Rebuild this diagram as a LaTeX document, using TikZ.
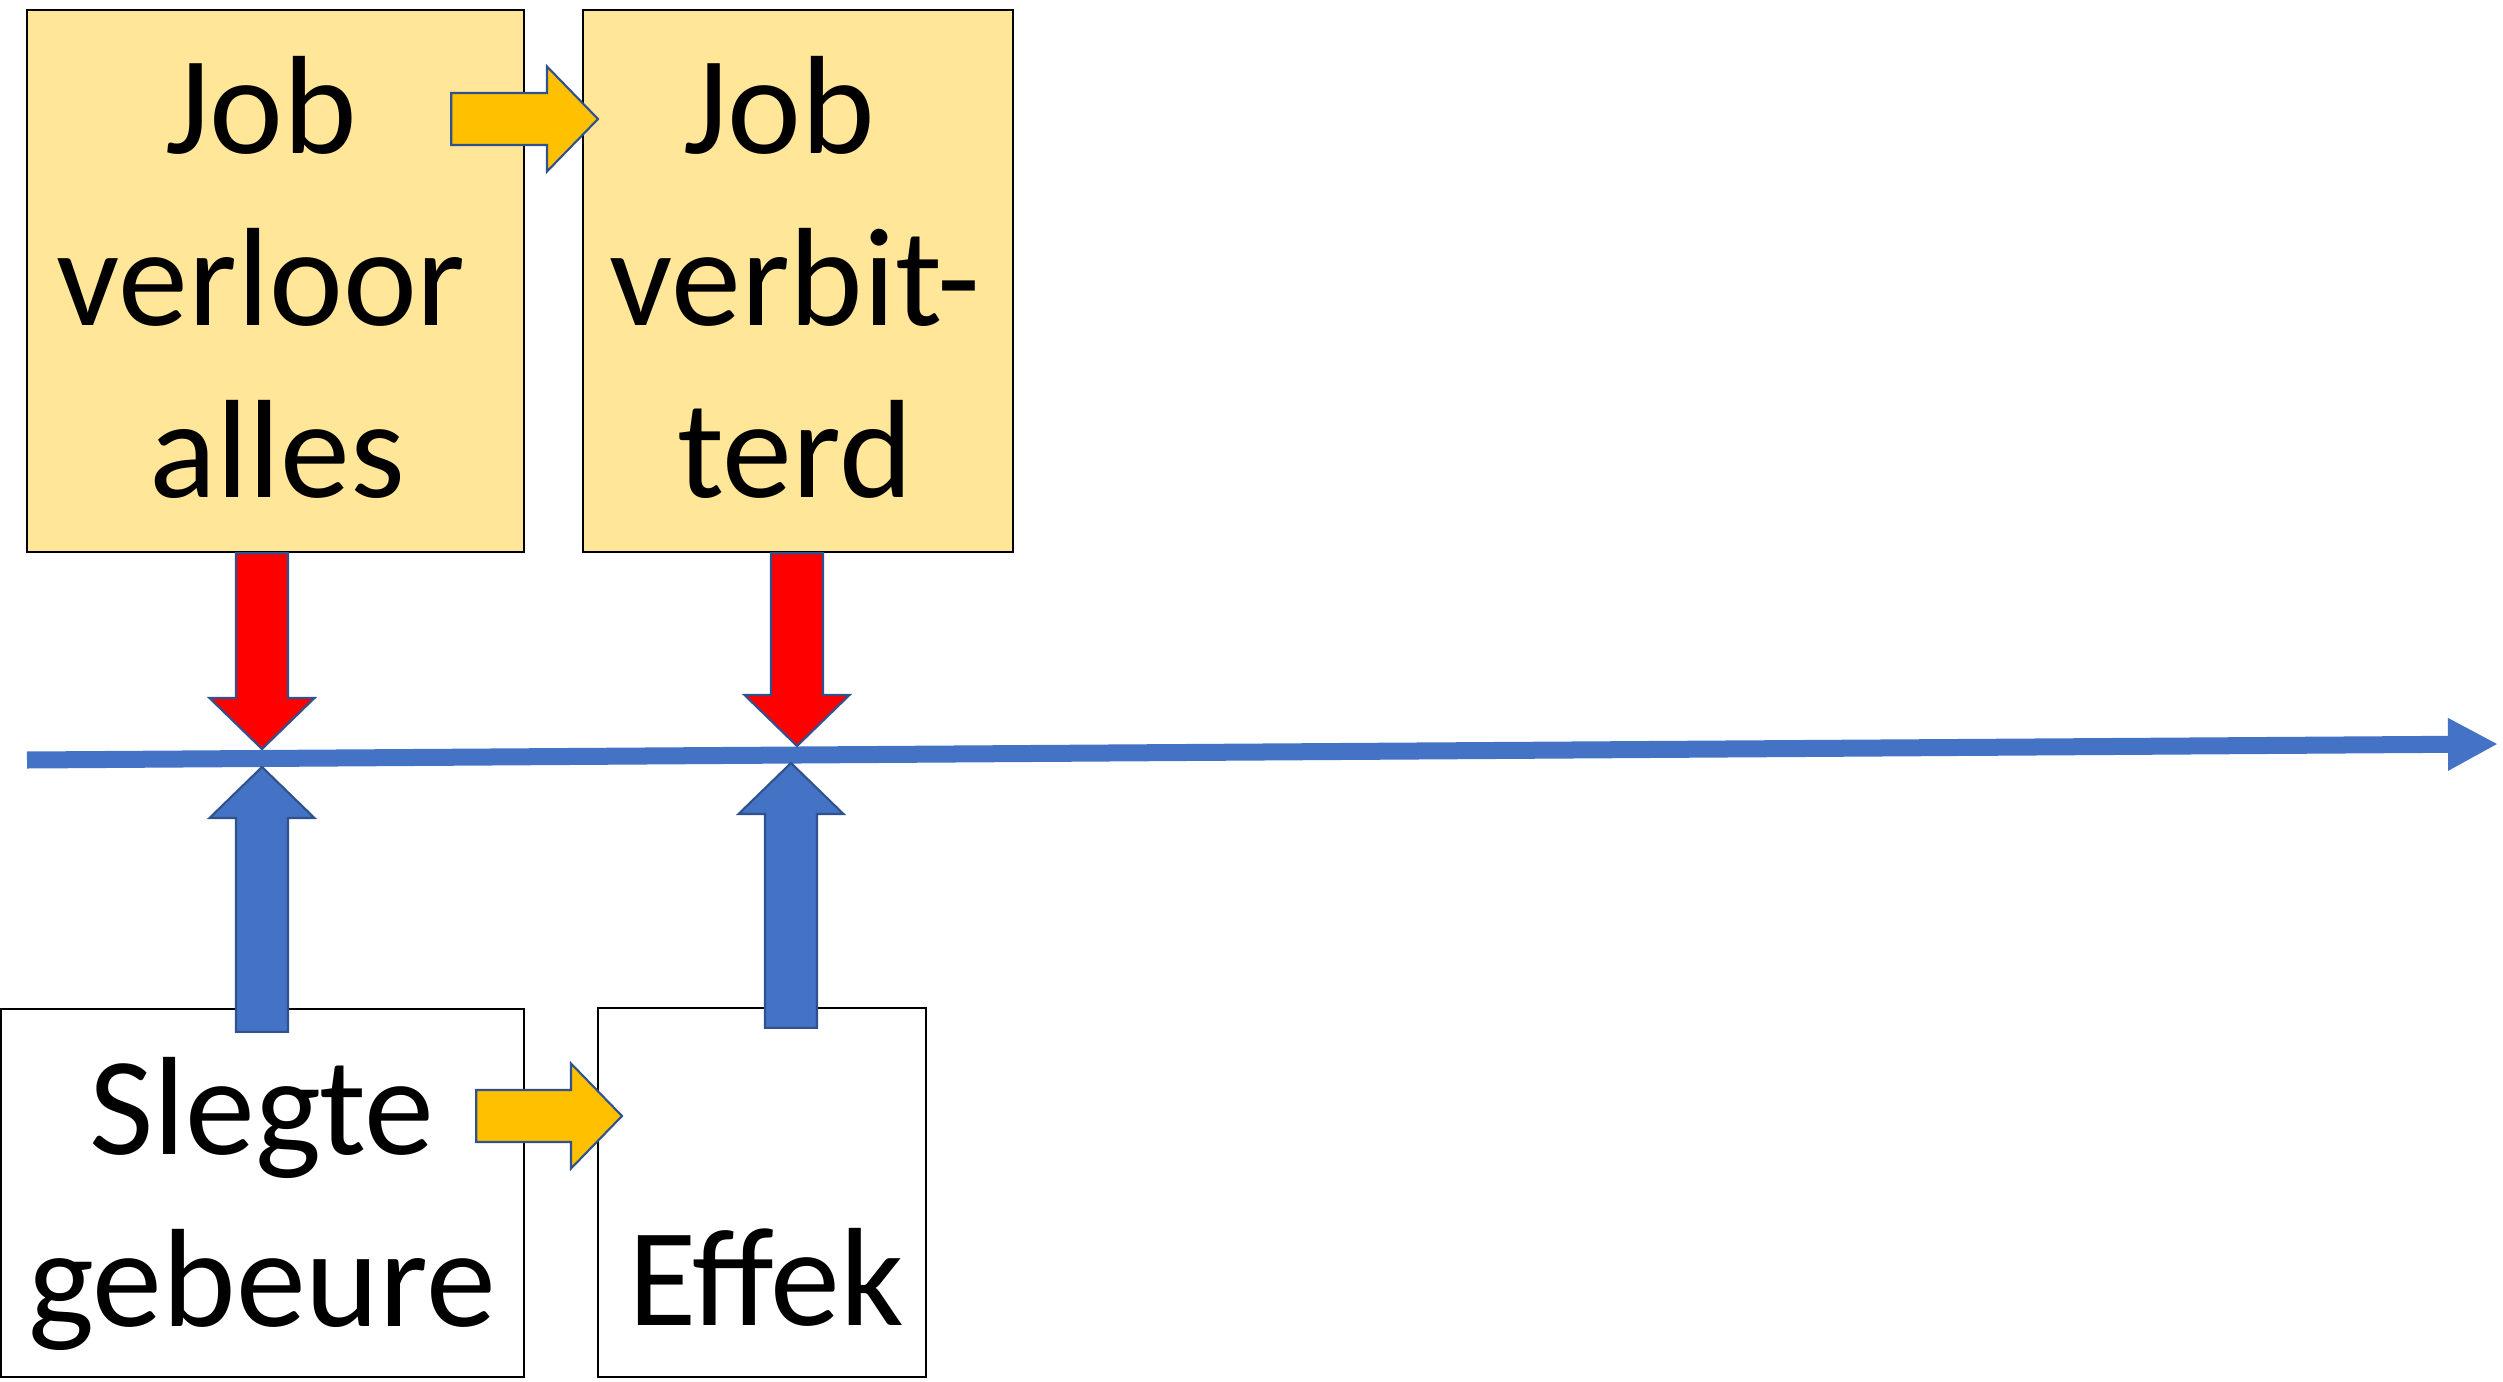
\documentclass[tikz,border=0pt]{standalone}
\usepackage{fontspec}
\setmainfont{Carlito}
\usetikzlibrary{calc,arrows.meta}
\definecolor{kasgeel}{HTML}{FFE699}
\definecolor{pylgeel}{HTML}{FFC000}
\definecolor{blou}{HTML}{4472C4}
\definecolor{rand}{HTML}{2F528F}
\newcommand{\blokpyl}[3]{%
  \coordinate (bp) at (#2);
  \coordinate (hb) at ($(#3)!0.51cm!(bp)$);
  \draw[#1] ($(bp)!0.26cm!90:(#3)$) -- ($(hb)!0.26cm!90:(#3)$) -- ($(hb)!0.525cm!90:(#3)$) -- (#3)
    -- ($(hb)!0.525cm!-90:(#3)$) -- ($(hb)!0.26cm!-90:(#3)$) -- ($(bp)!0.26cm!-90:(#3)$) -- cycle;}
\begin{document}
\begin{tikzpicture}[x=0.01cm,y=-0.01cm,
	kas/.style={draw,line width=0.6pt,inner sep=0pt},
	teks/.style={font=\fontsize{39.8pt}{48.8pt}\selectfont,align=center,inner sep=0pt,anchor=north},
	geel/.style={fill=pylgeel,draw=rand,line width=0.6pt},
	rooi/.style={fill=red,draw=rand,line width=0.6pt},
	bloupyl/.style={fill=blou,draw=rand,line width=0.6pt}]
		\useasboundingbox (0,0) rectangle (2503,1382);
		\node[kas,fill=kasgeel,minimum width=4.97cm,minimum height=5.42cm] (verloor) at (275.5,281) {};
		\node[kas,fill=kasgeel,minimum width=4.30cm,minimum height=5.42cm] (verbitterd) at (798,281) {};
		\node[kas,minimum width=5.23cm,minimum height=3.68cm] (slegte) at (262.5,1193) {};
		\node[kas,minimum width=3.28cm,minimum height=3.69cm] (effek) at (762,1192.5) {};
		\node[teks] (verloortks) at (277,56) {Job\kern0.226em\\verloor\kern0.226em\\alles};
		\node[teks] (verbittks) at (795,56) {Job\kern0.226em\\verbit-\\terd};
		\node[teks] (slegtetks) at (262,1057) {Slegte\\gebeure};
		\node[teks] (effektks) at (766,1228) {Effek};
		% tydlyn
		\coordinate (begin) at (27,760);
		\coordinate (einde) at (2498,744);
		\draw[blou,line width=0.17cm,-{Triangle[length=0.5cm,width=0.49cm]}] (begin) -- (einde);
		% pyle
		\coordinate (geel1) at (598,119);
		\coordinate (geel2) at (622,1116);
		\coordinate (rooi1) at (262,749);
		\coordinate (rooi2) at (797,746);
		\coordinate (blou1) at (262,767);
		\coordinate (blou2) at (791,763);
		\blokpyl{geel}{$(verloor.east |- geel1)+(-74,0)$}{geel1}
		\blokpyl{geel}{$(slegte.east |- geel2)+(-49,0)$}{geel2}
		\blokpyl{rooi}{verloor.south -| rooi1}{rooi1}
		\blokpyl{rooi}{verbitterd.south -| rooi2}{rooi2}
		\blokpyl{bloupyl}{$(slegte.north -| blou1)+(0,24)$}{blou1}
		\blokpyl{bloupyl}{$(effek.north -| blou2)+(0,21)$}{blou2}
\end{tikzpicture}
\end{document}
